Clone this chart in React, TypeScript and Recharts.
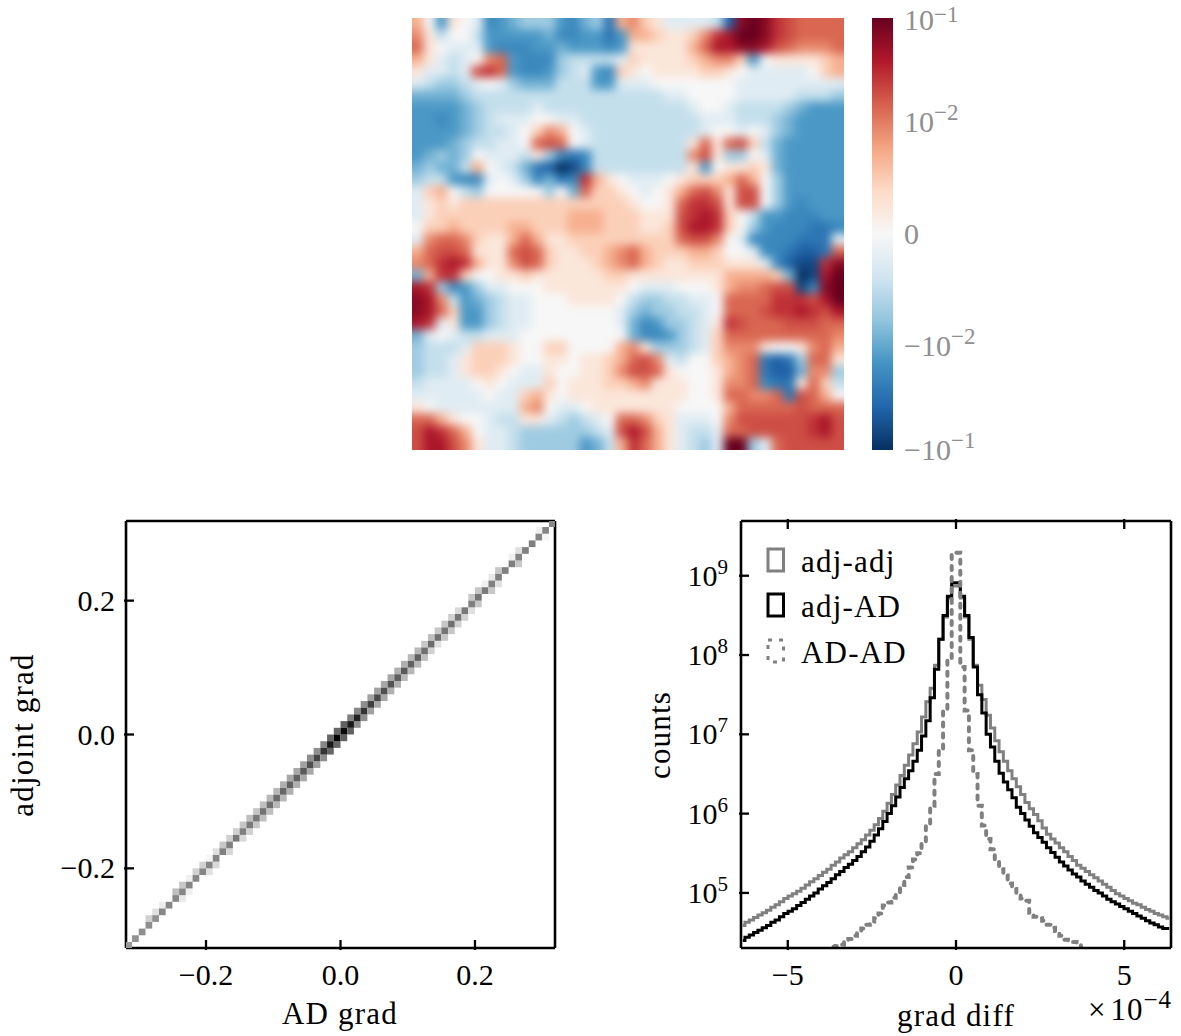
import { Bar, BarChart, Legend, Line, LineChart, Scatter, ScatterChart, XAxis, YAxis } from 'recharts'

const FONT = '"Liberation Serif", serif'
const NUM_SIZE = 30
const WORD_SIZE = 31
const WORD_SPACING = 1.2

// gradient map, rows top to bottom, level -10..10 along the colorbar
const HEAT_LEVELS = [
  [3,0,-5,1,0,-1,-6,-5,-4,-3,-3,-3,-5,-6,-4,-3,-7,3,4,2,1,-1,-1,-1,-1,-2,-8,9,10,9,7,6,5,5,5,5],
  [4,1,-2,0,0,-2,-5,-5,-5,-5,-5,-4,-6,-6,-5,-5,-7,-5,3,3,2,1,1,2,4,7,8,10,10,9,7,6,5,5,5,5],
  [5,1,0,-1,-1,-1,-5,-6,-6,-6,-5,-5,-4,-5,-5,-5,-6,-5,1,1,1,1,1,3,5,8,8,9,9,8,6,5,4,4,4,5],
  [3,1,-1,-2,-1,0,4,5,-5,-6,-6,-6,-3,-2,-2,-2,-2,-1,2,1,1,1,1,2,3,4,4,2,-5,0,1,1,1,1,2,3],
  [1,-1,-1,-2,-1,6,7,5,-5,-6,-6,-5,-3,-2,-1,-5,-6,2,1,0,1,1,1,1,2,2,1,0,-1,-1,-1,-1,-1,0,2,3],
  [-1,-2,-3,-3,-2,-1,0,-1,-3,-4,-4,-4,-2,-2,-2,-5,-5,-1,-1,-1,0,0,0,0,0,0,0,-1,-1,-1,-1,-1,-1,-1,-1,-1],
  [-4,-4,-4,-4,-3,-2,-2,-2,-2,-2,-2,-2,-2,-2,-2,-2,-2,-2,-2,-2,-2,-1,-1,0,0,0,0,-1,-1,-1,-1,-1,-2,-2,-2,-3],
  [-5,-5,-5,-5,-4,-3,-2,-2,-2,-2,-1,-2,-2,-2,-2,-2,-2,-2,-2,-2,-2,-2,-2,-1,0,0,-1,-2,-2,-2,-2,-3,-4,-5,-5,-5],
  [-5,-5,-6,-5,-4,-3,-2,-1,-1,-1,0,0,-1,-1,-2,-2,-2,-2,-2,-2,-2,-2,-2,-2,-1,-1,-1,-2,-2,-2,-3,-4,-5,-5,-5,-5],
  [-5,-5,-5,-5,-4,-3,-2,-2,-1,0,2,4,3,0,-1,-2,-2,-2,-2,-2,-2,-2,-2,-2,-1,0,0,-1,0,-1,-3,-4,-5,-5,-5,-5],
  [-5,-5,-5,-4,-3,-2,-2,-1,-1,0,5,6,5,0,-1,-2,-2,-2,-2,-2,-2,-2,-2,1,5,1,5,6,2,-2,-4,-5,-5,-5,-5,-5],
  [-5,-4,-3,-4,-3,0,-1,-1,-1,-2,1,-3,-6,-7,-6,-2,-2,-2,-2,-2,-2,-2,-2,4,6,1,-3,-3,0,-1,-4,-5,-5,-5,-5,-5],
  [-4,-3,-4,-4,-2,3,0,-1,-2,-4,-7,-8,-10,-9,-6,-2,-2,-2,-2,-2,-2,-2,-2,1,-5,0,1,1,2,1,-4,-5,-5,-5,-5,-5],
  [-3,-2,-2,-5,-6,-6,-1,0,-1,-3,-6,-4,-7,-6,7,3,1,0,-1,-1,-1,0,1,2,2,2,3,5,3,0,-3,-5,-5,-5,-5,-5],
  [-1,2,3,0,-2,-3,0,0,0,0,0,-3,0,-4,5,2,2,1,0,-1,0,1,3,5,6,4,1,6,6,0,-3,-5,-5,-5,-5,-5],
  [-1,1,2,1,2,2,2,2,2,2,2,2,2,2,2,2,2,2,1,0,0,1,5,7,7,6,1,6,6,0,-3,-5,-6,-5,-5,-5],
  [-1,1,2,2,2,2,2,2,2,2,2,2,2,3,3,3,2,2,2,1,1,1,6,7,8,7,2,0,-2,-5,-5,-6,-6,-6,-5,-5],
  [0,2,2,3,2,2,2,2,3,3,2,2,2,3,3,3,2,2,2,1,1,2,6,8,8,7,2,0,-3,-5,-6,-6,-6,-7,-7,-6],
  [-1,4,5,5,4,2,1,1,3,5,3,1,1,2,2,2,2,2,2,2,2,2,5,6,6,4,0,-1,-6,-6,-6,-6,-7,-7,-7,-1],
  [3,5,6,6,5,1,1,1,5,6,5,2,1,1,2,2,3,4,5,3,2,2,2,3,3,2,0,0,-1,-6,-6,-7,-8,-8,-7,5],
  [4,5,7,8,7,3,1,1,4,6,5,2,1,1,1,2,3,4,5,3,2,1,1,2,2,2,1,1,1,-1,-6,-8,-9,-9,7,9],
  [-4,3,7,7,2,0,0,1,1,2,1,1,1,1,1,1,2,2,1,1,1,1,1,1,1,1,3,3,3,3,2,-4,-10,-9,8,10],
  [8,7,-3,-6,-5,-3,-1,-1,0,0,0,1,1,1,1,1,1,1,0,-1,-1,-1,0,0,0,1,3,4,4,5,6,6,-9,-6,9,10],
  [9,8,4,-2,-5,-4,-3,-2,-1,-1,0,0,0,1,1,1,1,0,-2,-3,-3,-2,-2,-1,-1,0,5,5,5,5,7,7,7,6,8,10],
  [9,8,5,2,-5,-5,-3,-2,-1,-1,0,0,0,0,0,0,0,-1,-3,-4,-3,-3,-2,-2,-1,0,5,5,5,6,7,7,8,7,6,8],
  [8,7,-1,1,-5,-5,-3,-2,-1,-1,0,0,0,0,0,0,0,-1,-4,-6,-5,-3,-3,-2,-1,1,7,6,5,5,5,6,6,6,5,5],
  [-4,-1,0,-1,-2,-2,-1,-1,-1,0,0,0,0,0,0,0,0,0,-4,-6,-6,-5,-3,-2,-1,2,5,5,5,5,5,5,5,5,5,4],
  [-3,-2,-2,-2,-1,2,2,2,1,0,0,2,2,0,0,0,0,3,4,1,-3,-3,-3,-2,-1,2,4,4,4,1,0,0,1,4,5,3],
  [-3,-2,-2,-1,1,2,2,2,1,0,0,1,1,0,1,1,2,3,5,6,4,-1,-2,0,0,2,3,4,5,-7,-8,-7,-3,5,5,1],
  [-3,-2,-2,-1,1,2,2,1,0,-1,-1,1,0,0,1,1,2,4,6,6,5,1,0,0,0,1,3,4,5,-7,-8,-8,-4,4,4,-3],
  [-2,-1,-1,-1,-1,0,1,0,-1,-1,-1,2,0,1,1,1,2,2,3,4,1,1,1,0,0,1,4,4,5,-6,-7,-7,1,5,2,-2],
  [-1,-1,-1,-1,-1,-1,0,-1,-1,2,3,1,0,1,1,1,1,1,1,1,1,1,1,0,0,1,5,5,4,4,5,-7,6,5,3,0],
  [1,0,-1,-1,-1,-1,-1,-1,-1,3,4,0,-1,-1,0,1,1,1,1,1,1,1,0,0,0,0,3,5,5,5,5,5,6,5,5,5],
  [5,5,3,1,0,0,-1,-2,-2,1,1,-1,-2,-3,-2,-1,0,5,5,4,2,1,-1,-1,-1,0,4,6,6,6,6,6,6,7,8,6],
  [6,8,7,5,3,0,-1,-1,-2,-3,-3,-3,-3,-3,-3,-2,-1,6,8,6,3,1,-1,-2,-2,-1,5,5,6,6,6,6,6,7,8,6],
  [6,8,8,6,4,1,-1,-1,-2,-3,-3,-3,-3,-3,-5,-4,-2,3,7,5,3,1,-1,-2,-3,-1,10,10,-3,-1,5,6,6,6,6,6],
]

const RDBU = ['#053061', '#2166ac', '#4393c3', '#92c5de', '#d1e5f0', '#f7f7f7', '#fddbc7', '#f4a582', '#d6604d', '#b2182b', '#67001f']
// read levels sat a little pale against the colorbar, this maps them onto it
const LEVEL_BOOST = [0, 1.2, 2.4, 3.6, 4.8, 5.8, 6.5, 7.3, 8.2, 9.1, 10]
const CB_TICK_POS = [-1, -0.52, 0, 0.52, 1]
const CB_TICK_BASE = ['−10', '−10', '0', '10', '10']
const CB_TICK_EXP = ['−1', '−2', '', '−2', '−1']

// 2d histogram, bins along the diagonal and the cells just above and below it
const HIST_BINS = [
  -0.315,-0.305,-0.295,-0.285,-0.275,-0.265,-0.255,-0.245,-0.235,-0.225,-0.215,-0.205,-0.195,-0.185,-0.175,-0.165,
  -0.155,-0.145,-0.135,-0.125,-0.115,-0.105,-0.095,-0.085,-0.075,-0.065,-0.055,-0.045,-0.035,-0.025,-0.015,-0.005,
  0.005,0.015,0.025,0.035,0.045,0.055,0.065,0.075,0.085,0.095,0.105,0.115,0.125,0.135,0.145,0.155,
  0.165,0.175,0.185,0.195,0.205,0.215,0.225,0.235,0.245,0.255,0.265,0.275,0.285,0.295,0.305,0.315,
]
const HIST_DIAG = [
  40,43,44,44,43,47,47,47,47,48,47,47,48,48,50,50,53,50,52,53,55,56,58,60,62,62,65,69,73,80,90,100,
  96,90,87,80,75,71,69,67,63,65,62,62,56,58,56,54,56,54,53,50,54,52,50,50,50,50,48,50,50,48,48,47,
]
const HIST_ABOVE = [
  0,0,0,18,12,7,0,25,22,6,18,18,4,12,22,18,18,22,25,22,25,28,28,31,34,34,37,44,44,47,60,60,
  62,50,47,44,37,37,34,34,31,31,28,28,22,25,22,22,18,15,0,22,22,6,9,22,0,6,12,0,0,6,0,0,
]
const HIST_BELOW = [
  0,0,0,0,0,0,0,0,9,6,0,0,12,15,0,16,0,15,18,22,25,25,28,28,31,31,34,34,37,44,60,60,
  62,62,44,44,37,34,34,31,31,28,28,28,25,18,12,22,22,18,18,12,22,0,22,12,0,0,22,0,0,0,4,0,
]
const HIST_TICKS = [-0.2, 0, 0.2]
const HIST_TICK_LABELS = ['−0.2', '0.0', '0.2']

// grad diff histograms, log10 of the counts per bin, bin centres in units of 1e-4
const DIFF_BINS = [
  -6.336,-6.208,-6.08,-5.952,-5.824,-5.696,-5.568,-5.44,-5.312,-5.184,-5.056,-4.928,-4.8,-4.672,-4.544,-4.416,-4.288,-4.16,-4.032,-3.904,
  -3.776,-3.648,-3.52,-3.392,-3.264,-3.136,-3.008,-2.88,-2.752,-2.624,-2.496,-2.368,-2.24,-2.112,-1.984,-1.856,-1.728,-1.6,-1.472,-1.344,
  -1.216,-1.088,-0.96,-0.832,-0.704,-0.576,-0.448,-0.32,-0.192,-0.064,
  0.064,0.192,0.32,0.448,0.576,0.704,0.832,0.96,1.088,1.216,1.344,1.472,1.6,1.728,1.856,1.984,2.112,2.24,2.368,2.496,
  2.624,2.752,2.88,3.008,3.136,3.264,3.392,3.52,3.648,3.776,3.904,4.032,4.16,4.288,4.416,4.544,4.672,4.8,4.928,5.056,
  5.184,5.312,5.44,5.568,5.696,5.824,5.952,6.08,6.208,6.336,
]
const ADJ_ADJ_LOG = [
  4.59,4.63,4.66,4.69,4.72,4.75,4.78,4.82,4.85,4.89,4.93,4.96,4.99,5.02,5.06,5.1,5.14,5.18,5.22,5.26,
  5.3,5.35,5.39,5.44,5.48,5.52,5.57,5.62,5.67,5.73,5.79,5.86,5.94,6.03,6.13,6.24,6.36,6.48,6.61,6.74,
  6.88,7.03,7.22,7.41,7.58,7.87,8.2,8.48,8.72,8.87,
  8.87,8.72,8.48,8.2,7.87,7.62,7.44,7.24,7.08,6.92,6.78,6.66,6.54,6.44,6.34,6.24,6.14,6.06,5.99,5.91,
  5.82,5.74,5.68,5.63,5.57,5.52,5.46,5.41,5.35,5.31,5.27,5.23,5.19,5.15,5.11,5.07,5.03,4.99,4.96,4.93,
  4.9,4.87,4.85,4.82,4.79,4.77,4.74,4.72,4.7,4.68,
]
const ADJ_AD_LOG = [
  4.40,4.44,4.47,4.50,4.53,4.56,4.59,4.63,4.66,4.70,4.74,4.77,4.80,4.84,4.88,4.92,4.96,5.0,5.05,5.09,
  5.13,5.18,5.23,5.27,5.32,5.36,5.41,5.46,5.52,5.58,5.65,5.73,5.81,5.9,6.0,6.1,6.21,6.33,6.44,6.54,
  6.66,6.8,6.98,7.17,7.46,7.82,8.2,8.5,8.74,8.91,
  8.91,8.74,8.5,8.22,7.85,7.5,7.27,7.0,6.84,6.66,6.51,6.4,6.3,6.2,6.08,6.0,5.92,5.84,5.76,5.7,
  5.64,5.57,5.51,5.45,5.39,5.34,5.29,5.24,5.2,5.15,5.11,5.07,5.03,5.0,4.96,4.92,4.89,4.86,4.83,4.8,
  4.77,4.74,4.71,4.68,4.65,4.62,4.6,4.57,4.55,4.55,
]
const AD_AD_LOG = [
  null,null,null,null,null,null,null,null,null,null,null,null,null,null,null,null,null,null,null,null,
  4.1,4.32,4.33,4.35,4.38,4.42,4.46,4.5,4.55,4.6,4.64,4.68,4.74,4.84,4.88,4.94,5.0,5.1,5.2,5.32,
  5.42,5.5,5.65,5.85,6.1,6.5,6.8,7.3,7.94,9.29,
  9.29,7.85,7.3,6.8,6.5,6.1,5.85,5.68,5.55,5.4,5.3,5.22,5.12,5.05,4.97,4.93,4.9,4.75,4.7,4.68,
  4.65,4.6,4.56,4.52,4.46,4.41,4.39,4.38,4.37,4.1,
  null,null,null,null,null,null,null,null,null,null,null,null,null,null,null,null,null,null,null,null,
]
const DIFF_NAMES = ['adj-adj', 'adj-AD', 'AD-AD']
const DIFF_X_TICKS = [-5, 0, 5]
const DIFF_X_LABELS = ['−5', '0', '5']
const DIFF_Y_TICKS = [1e5, 1e6, 1e7, 1e8, 1e9]
const DIFF_Y_EXP = ['5', '6', '7', '8', '9']

const heatCells = HEAT_LEVELS.flatMap((row, r) => row.map((level, c) => ({ x: c + 0.5, y: r + 0.5, level })))

const histCells = HIST_BINS.flatMap((x, i) => [
  { x, y: HIST_BINS[i + 1], v: HIST_ABOVE[i] },
  { x, y: HIST_BINS[i - 1], v: HIST_BELOW[i] },
  { x, y: x, v: HIST_DIAG[i] },
]).filter(d => d.v > 0 && d.y !== undefined)

const diffRows = DIFF_BINS.map((x, i) => ({
  x,
  adjAdj: 10 ** ADJ_ADJ_LOG[i],
  adjAd: 10 ** ADJ_AD_LOG[i],
  adAd: AD_AD_LOG[i] === null ? null : 10 ** (AD_AD_LOG[i] as number),
}))

function levelColor(level: number) {
  const boosted = Math.sign(level) * LEVEL_BOOST[Math.abs(level)]
  const t = (boosted + 10) / 2
  const i = Math.min(Math.floor(t), 9)
  const f = t - i
  const a = RDBU[i], b = RDBU[i + 1]
  const ch = (k: number) => {
    const p = parseInt(a.slice(k, k + 2), 16), q = parseInt(b.slice(k, k + 2), 16)
    return Math.round(p + (q - p) * f)
  }
  return `rgb(${ch(1)},${ch(3)},${ch(5)})`
}

function HeatCell(p: any) {
  const cell = 12
  const { x, y, level } = p.payload
  // outer cells run past the clip so the blur doesn't fade at the edge
  const left = x < 1 ? cell : 0, right = x > 35 ? cell : 0
  const top = y < 1 ? cell : 0, bottom = y > 35 ? cell : 0
  return (
    <rect
      x={p.cx - cell / 2 - left - 0.5}
      y={p.cy - cell / 2 - top - 0.5}
      width={cell + left + right + 1}
      height={cell + top + bottom + 1}
      fill={levelColor(level)}
    />
  )
}

function HistCell(p: any) {
  const size = 429 / 64
  const g = Math.round(255 * (1 - p.payload.v / 100))
  return (
    <rect
      x={p.cx - size / 2}
      y={p.cy - size / 2}
      width={size}
      height={size}
      fill={`rgb(${g},${g},${g})`}
    />
  )
}

function PowerLabel({ x, y, base, exp, anchor, fill = '#000', rise = 12 }: any) {
  return (
    <text x={x} y={y} textAnchor={anchor} fontFamily={FONT} fontSize={NUM_SIZE} fill={fill}>
      {base}
      {exp && <tspan dy={-rise} fontSize={exp.length > 1 ? 23 : 21}>{exp}</tspan>}
    </text>
  )
}

function WordLabel({ x, y, rotate, children }: any) {
  return (
    <text
      transform={`translate(${x} ${y})${rotate ? ' rotate(-90)' : ''}`}
      textAnchor="middle"
      fontFamily={FONT}
      fontSize={WORD_SIZE}
      letterSpacing={WORD_SPACING}
    >
      {children}
    </text>
  )
}

const TICK_LEN = 10
const TICK_WIDTH = 2.3

const xTick = (labels?: string[], ticks?: number[]) => (p: any) => {
  const i = ticks ? ticks.indexOf(p.payload.value) : -1
  const dir = labels ? -1 : 1
  return (
    <g>
      <line x1={p.x} x2={p.x} y1={p.y} y2={p.y + dir * TICK_LEN} stroke="#000" strokeWidth={TICK_WIDTH} />
      {labels && (
        <text x={p.x} y={p.y + 35} textAnchor="middle" fontFamily={FONT} fontSize={NUM_SIZE}>{labels[i]}</text>
      )}
    </g>
  )
}

const yTick = (side: 'left' | 'right', label?: (v: number) => { base: string; exp: string }) => (p: any) => {
  const dir = side === 'left' ? 1 : -1
  const text = label && label(p.payload.value)
  return (
    <g>
      <line x1={p.x} x2={p.x + dir * TICK_LEN} y1={p.y} y2={p.y} stroke="#000" strokeWidth={TICK_WIDTH} />
      {text && <PowerLabel x={p.x - (text.exp ? 11 : 9)} y={p.y + 10} base={text.base} exp={text.exp} anchor="end" />}
    </g>
  )
}

const frameLine = { stroke: '#000', strokeWidth: 2.6 }

function DiffLegend({ payload }: any) {
  const items = DIFF_NAMES.map(name => (payload ?? []).find((e: any) => e.value === name)).filter(Boolean)
  return (
    <div style={{ fontFamily: FONT, fontSize: WORD_SIZE, letterSpacing: WORD_SPACING, color: '#000' }}>
      {items.map((entry: any) => (
        <div key={entry.value} style={{ display: 'flex', alignItems: 'center', height: 45.5 }}>
          <svg width={20} height={26} style={{ marginRight: 15 }}>
            <rect
              x={2}
              y={2}
              width={15.5}
              height={22}
              fill="none"
              stroke={entry.color}
              strokeWidth={3}
              strokeDasharray={entry.payload?.strokeDasharray}
            />
          </svg>
          <span style={{ position: 'relative', top: 2 }}>{entry.value}</span>
        </div>
      ))}
    </div>
  )
}

function HeatPanel() {
  return (
    <div style={{ position: 'absolute', left: 412, top: 18, width: 432, height: 432, overflow: 'hidden' }}>
      <div style={{ position: 'absolute', left: -12, top: -12, filter: 'blur(5px)' }}>
        <ScatterChart width={456} height={456} margin={{ left: 12, right: 12, top: 12, bottom: 12 }}>
          <XAxis type="number" dataKey="x" domain={[0, 36]} hide />
          <YAxis type="number" dataKey="y" domain={[0, 36]} reversed hide />
          <Scatter data={heatCells} shape={HeatCell} isAnimationActive={false} />
        </ScatterChart>
      </div>
    </div>
  )
}

function ColorbarPanel() {
  const stops = RDBU.map((c, i) => <stop key={c} offset={`${i * 10}%`} stopColor={c} />)
  return (
    <div style={{ position: 'absolute', left: 860, top: 0 }}>
      <BarChart
        width={140}
        height={468}
        data={[{ name: 'cb', range: [-1, 1] }]}
        margin={{ left: 12, right: 106, top: 18, bottom: 18 }}
        barCategoryGap={0}
      >
        <defs>
          <linearGradient id="rdbu" x1="0" y1="1" x2="0" y2="0">{stops}</linearGradient>
        </defs>
        <XAxis dataKey="name" hide />
        <YAxis
          orientation="right"
          type="number"
          domain={[-1, 1]}
          ticks={CB_TICK_POS}
          interval={0}
          width={1}
          axisLine={false}
          tickLine={false}
          tickSize={0}
          tick={(p: any) => {
            const i = CB_TICK_POS.indexOf(p.payload.value)
            const atTop = p.payload.value === 1
            return (
              <PowerLabel
                x={p.x + 9}
                y={p.y + (atTop ? 12 : 10)}
                base={CB_TICK_BASE[i]}
                exp={CB_TICK_EXP[i]}
                anchor="start"
                fill="#8f8f8f"
                rise={atTop ? 8 : 12}
              />
            )
          }}
        />
        <Bar dataKey="range" fill="url(#rdbu)" isAnimationActive={false} />
      </BarChart>
    </div>
  )
}

function HistPanel() {
  const dom: [number, number] = [-0.319, 0.319]
  return (
    <div style={{ position: 'absolute', left: 0, top: 500 }}>
      <ScatterChart width={590} height={536} margin={{ left: 125, right: 34, top: 20, bottom: 87 }}>
        <XAxis
          type="number"
          dataKey="x"
          domain={dom}
          ticks={HIST_TICKS}
          interval={0}
          height={1}
          allowDataOverflow
          axisLine={frameLine}
          tickLine={false}
          tickSize={0}
          tick={xTick(HIST_TICK_LABELS, HIST_TICKS)}
        />
        <XAxis
          xAxisId="top"
          orientation="top"
          type="number"
          domain={dom}
          ticks={HIST_TICKS}
          interval={0}
          height={1}
          axisLine={frameLine}
          tickLine={false}
          tickSize={0}
          tick={xTick()}
        />
        <YAxis
          type="number"
          dataKey="y"
          domain={dom}
          ticks={HIST_TICKS}
          interval={0}
          width={1}
          allowDataOverflow
          axisLine={frameLine}
          tickLine={false}
          tickSize={0}
          tick={yTick('left', v => ({ base: HIST_TICK_LABELS[HIST_TICKS.indexOf(v)], exp: '' }))}
        />
        <YAxis
          yAxisId="right"
          orientation="right"
          type="number"
          domain={dom}
          ticks={HIST_TICKS}
          interval={0}
          width={1}
          axisLine={frameLine}
          tickLine={false}
          tickSize={0}
          tick={yTick('right')}
        />
        <Scatter data={histCells} shape={HistCell} isAnimationActive={false} />
        <WordLabel x={340} y={524}>AD grad</WordLabel>
        <WordLabel x={33} y={235} rotate>adjoint grad</WordLabel>
      </ScatterChart>
    </div>
  )
}

function DiffPanel() {
  const xDom: [number, number] = [-6.39, 6.39]
  const yDom: [number, number] = [2.02e4, 4.9e9]
  return (
    <div style={{ position: 'absolute', left: 640, top: 500 }}>
      <LineChart width={541} height={536} data={diffRows} margin={{ left: 100, right: 9, top: 20, bottom: 87 }}>
        <XAxis
          type="number"
          dataKey="x"
          domain={xDom}
          ticks={DIFF_X_TICKS}
          interval={0}
          height={1}
          allowDataOverflow
          axisLine={frameLine}
          tickLine={false}
          tickSize={0}
          tick={xTick(DIFF_X_LABELS, DIFF_X_TICKS)}
        />
        <XAxis
          xAxisId="top"
          orientation="top"
          type="number"
          dataKey="x"
          domain={xDom}
          ticks={DIFF_X_TICKS}
          interval={0}
          height={1}
          axisLine={frameLine}
          tickLine={false}
          tickSize={0}
          tick={xTick()}
        />
        <YAxis
          scale="log"
          type="number"
          domain={yDom}
          ticks={DIFF_Y_TICKS}
          interval={0}
          width={1}
          allowDataOverflow
          axisLine={frameLine}
          tickLine={false}
          tickSize={0}
          tick={yTick('left', v => ({ base: '10', exp: DIFF_Y_EXP[DIFF_Y_TICKS.indexOf(v)] }))}
        />
        <YAxis
          yAxisId="right"
          orientation="right"
          scale="log"
          type="number"
          domain={yDom}
          ticks={DIFF_Y_TICKS}
          interval={0}
          width={1}
          axisLine={frameLine}
          tickLine={false}
          tickSize={0}
          tick={yTick('right')}
        />
        <Line name="adj-adj" dataKey="adjAdj" type="step" stroke="#808080" strokeWidth={3} dot={false} isAnimationActive={false} />
        <Line name="adj-AD" dataKey="adjAd" type="step" stroke="#000" strokeWidth={3} dot={false} isAnimationActive={false} />
        <Line
          name="AD-AD"
          dataKey="adAd"
          type="step"
          stroke="#808080"
          strokeWidth={4}
          strokeDasharray="4 7"
          strokeLinecap="round"
          dot={false}
          isAnimationActive={false}
        />
        <Legend
          layout="vertical"
          align="center"
          verticalAlign="middle"
          content={DiffLegend}
          wrapperStyle={{ left: 126, top: 37, width: 170 }}
        />
        <WordLabel x={316} y={526}>grad diff</WordLabel>
        <WordLabel x={30} y={235} rotate>counts</WordLabel>
        <text x={532} y={520} textAnchor="end" fontFamily={FONT} fontSize={NUM_SIZE + 1} letterSpacing={1}>
          ×<tspan dx={4}>10</tspan><tspan dy={-12} fontSize={25}>−4</tspan>
        </text>
      </LineChart>
    </div>
  )
}

export default function App() {
  return (
    <div style={{ position: 'absolute', left: 0, top: 0, width: 1181, height: 1036, background: '#fff' }}>
      <HeatPanel />
      <ColorbarPanel />
      <HistPanel />
      <DiffPanel />
    </div>
  )
}
